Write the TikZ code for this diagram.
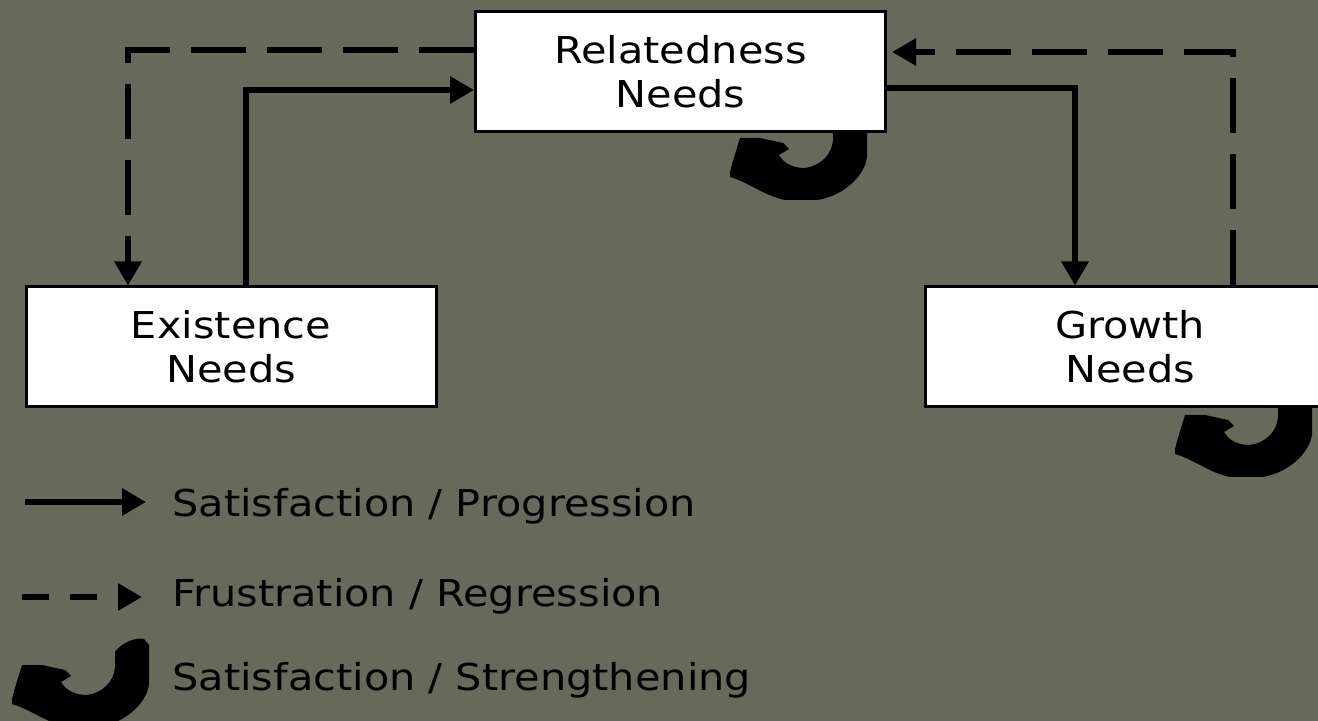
\documentclass[tikz,border=0pt]{standalone}
\usepackage{fontspec}
\setmainfont{DejaVu Sans}[FakeStretch=1.12]
\usetikzlibrary{arrows.meta}
\definecolor{bg}{RGB}{103,105,91}
\tikzset{
  needbox/.style={draw=black, line width=1.5pt, fill=white, rectangle,
    minimum width=205pt, minimum height=60pt, inner sep=0pt, align=center,
    font=\fontsize{18.5pt}{22pt}\selectfont},
  conn/.style={line width=3pt, line cap=butt, -{Triangle[length=12pt,width=13pt]}},
  dconn/.style={conn, dash pattern=on 27.5pt off 10.5pt},
  legtext/.style={anchor=base west, inner sep=0pt, font=\fontsize{18.5pt}{22pt}\selectfont},
  loop/.style={fill=black}
}
\newcommand{\loopshape}{%
  \fill (833,125) .. controls (840,115) and (855,110) .. (862,112) -- (867,118)
    -- (867,157) .. controls (865,175) and (845,195) .. (818,200) -- (785,200)
    .. controls (765,196) and (748,182) .. (730,177) -- (730,172)
    .. controls (733,160) and (737,148) .. (740,138) -- (760,138) -- (783,143)
    -- (789,149) -- (779,155) .. controls (785,165) and (795,168) .. (805,168)
    .. controls (820,166) and (832,155) .. (833,140) -- cycle;}
\begin{document}
\begin{tikzpicture}[x=0.5pt,y=-0.5pt]
\fill[bg] (0,0) rectangle (1318,721);
\useasboundingbox (0,0) rectangle (1318,721);
% self-strengthening loops
\begin{scope}\loopshape\end{scope}
\begin{scope}[shift={(445,277)}]\loopshape\end{scope}
\begin{scope}[shift={(-718,527)}]\loopshape\end{scope}
% boxes
\node[needbox] (rel) at (680.5,72) {Relatedness\\Needs};
\node[needbox] (ex) at (231,347) {Existence\\Needs};
\node[needbox] (gr) at (1130,347) {Growth\\Needs};
% connectors
\draw[dconn] ([yshift=11pt]rel.west) -| ([xshift=-51.5pt]ex.north);
\draw[conn] ([xshift=7.5pt]ex.north) |- ([yshift=-9pt]rel.west);
\draw[conn] ([yshift=-8pt]rel.east) -| ([xshift=-27.5pt]gr.north);
\draw[dconn] ([xshift=51.5pt]gr.north) |- ([shift={(2.5pt,10pt)}]rel.east);
% legend
\coordinate (s1) at (25,502);
\coordinate (s2) at (146,502);
\coordinate (f1) at (22,597);
\coordinate (f2) at (142,597);
\draw[conn] (s1) -- (s2);
\draw[conn, dash pattern=on 13.5pt off 10.5pt] (f1) -- (f2);
\node[legtext] (l1) at (172,517) {Satisfaction / Progression};
\node[legtext] (l2) at (172,607) {Frustration / Regression};
\node[legtext] (l3) at (172,690) {Satisfaction / Strengthening};
\end{tikzpicture}
\end{document}
